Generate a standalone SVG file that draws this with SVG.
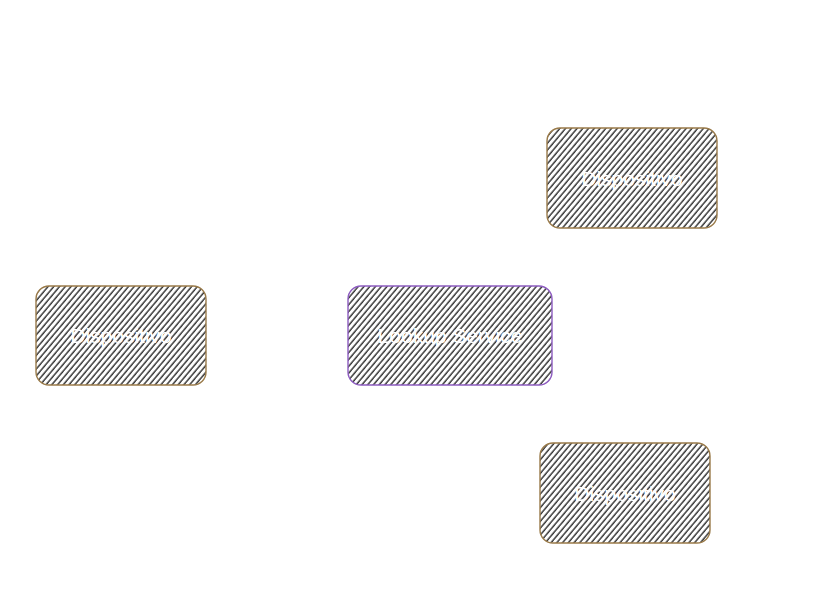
<svg xmlns="http://www.w3.org/2000/svg" width="827" height="605" viewBox="0 0 827 605">
<style>
.box{fill:url(#hatch);stroke-width:1.4}
.dev{stroke:#9a7b4a}
.svc{stroke:#8d5cc0}
.lbl{font-family:"Liberation Sans",Arial,sans-serif;font-size:21px;fill:#ffffff;text-anchor:middle;dominant-baseline:central}
</style>
<defs>
<pattern id="hatch" patternUnits="userSpaceOnUse" width="4.4" height="10" patternTransform="rotate(40)">
<line x1="1" y1="0" x2="1" y2="10" stroke="#111111" stroke-width="1.25"/>
</pattern>
</defs>
<rect width="827" height="605" fill="#ffffff"/>
<g id="connectors"></g>
<g id="node-dispositivo-1">
<rect class="box dev" x="547" y="128" width="170" height="100" rx="13"/>
<text class="lbl" x="632" y="178">Dispositivo</text>
</g>
<g id="node-lookup-service">
<rect class="box svc" x="348" y="286" width="204" height="99" rx="13"/>
<text class="lbl" x="450" y="335">Lookup Service</text>
</g>
<g id="node-dispositivo-2">
<rect class="box dev" x="36" y="286" width="170" height="99" rx="13"/>
<text class="lbl" x="121" y="335">Dispositivo</text>
</g>
<g id="node-dispositivo-3">
<rect class="box dev" x="540" y="443" width="170" height="100" rx="13"/>
<text class="lbl" x="625" y="493">Dispositivo</text>
</g>
</svg>
